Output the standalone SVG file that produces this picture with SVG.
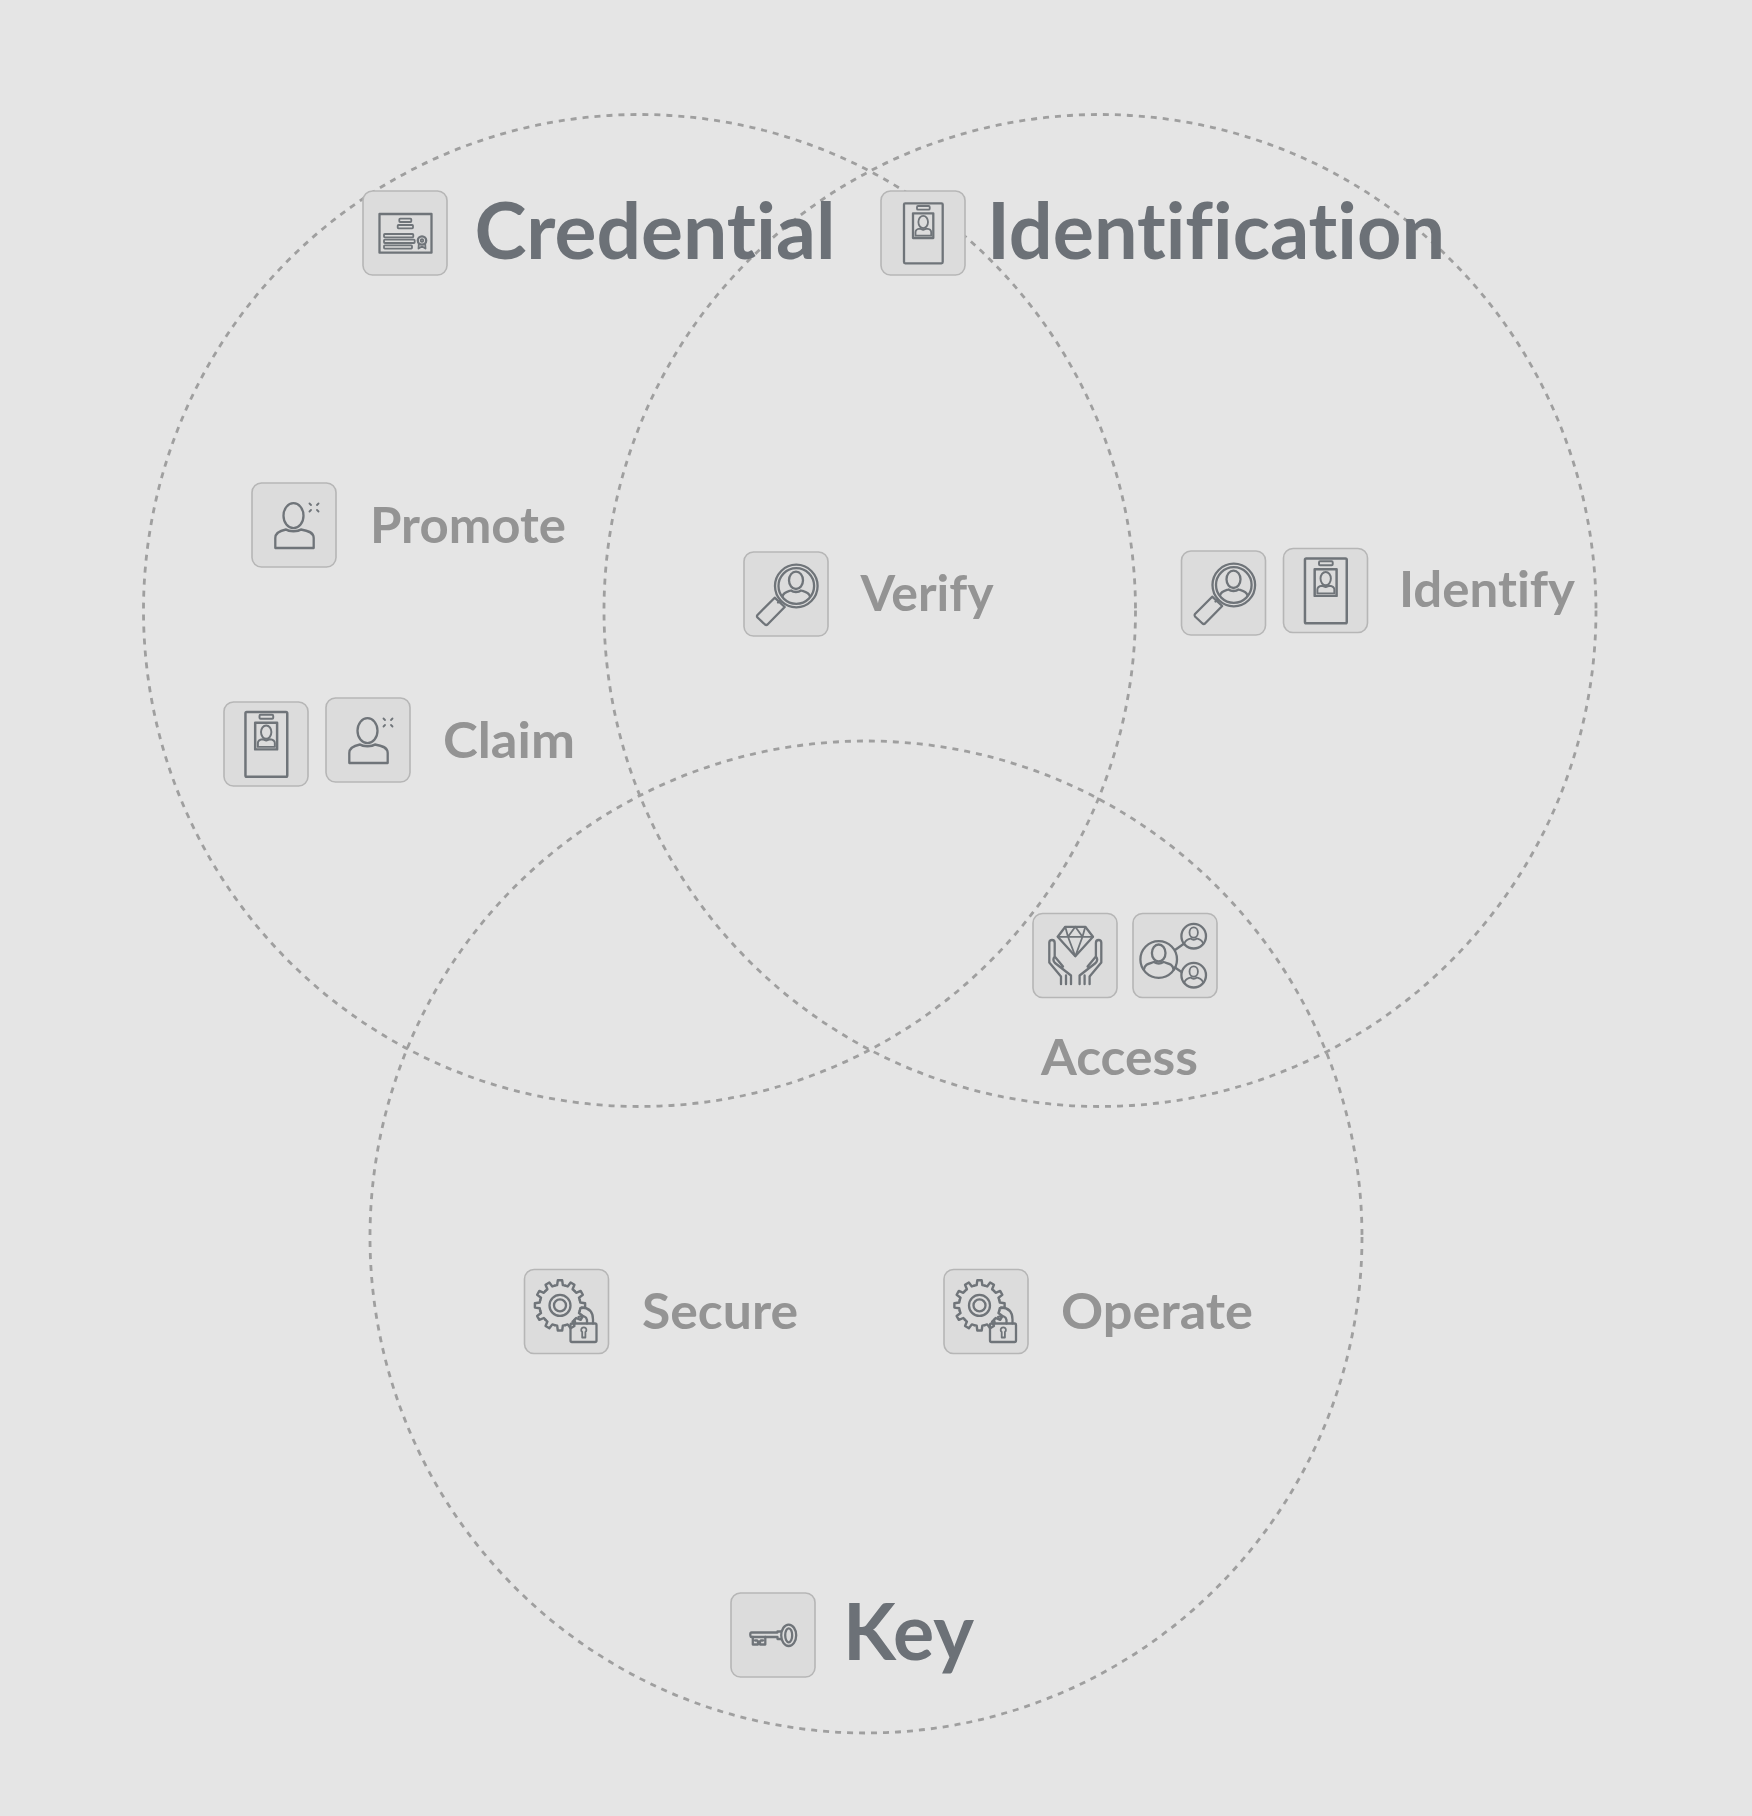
<svg xmlns="http://www.w3.org/2000/svg" width="1752" height="1816" viewBox="0 0 1752 1816">
<style>
.ring{fill:none;stroke:#9f9f9f;stroke-width:2.8;stroke-dasharray:6 6}
.box{fill:#dcdcdc;stroke:#b6b6b6;stroke-width:1.6}
.ic{fill:none;stroke:#6f7479;stroke-width:2.3;stroke-linejoin:round;stroke-linecap:round}
.ict{fill:none;stroke:#6f7479;stroke-width:1.8;stroke-linejoin:round;stroke-linecap:round}
text{font-family:Lato,"Liberation Sans",sans-serif;font-variant-ligatures:none;font-weight:700}
.title{font-size:78px;fill:#6c7177}
.label{font-size:50px;fill:#949494}
</style>
<defs>
<rect id="b" x="0" y="0" width="84" height="84" rx="9.5" class="box"/>
<g id="i-cred"><use href="#b"/><g class="ic"><rect x="16.5" y="23" width="52" height="38.7"/><rect class="ict" x="36.3" y="27.7" width="12" height="3.3" rx=".8"/><rect class="ict" x="34.7" y="34" width="15.3" height="3.3" rx=".8"/><rect class="ict" x="21" y="43" width="29.3" height="3.3" rx=".8"/><rect class="ict" x="21" y="48.7" width="30.7" height="3.3" rx=".8"/><rect class="ict" x="21" y="54.3" width="28" height="3.3" rx=".8"/><circle cx="59" cy="49.5" r="4.2"/><circle class="ict" cx="59" cy="49.5" r="1.3"/><path class="ict" d="M55.8 53L55.5 57.5L58 56L60 56L62.5 57.5L62.2 53"/></g></g>
<g id="a-id" class="ic"><rect x="23" y="12.3" width="38.7" height="60" rx="1.2"/><rect class="ict" x="36" y="15" width="12.7" height="3.7" rx="1"/><rect x="32" y="22.3" width="20.3" height="24.7"/><ellipse class="ict" cx="42.2" cy="31" rx="4.8" ry="6.2"/><path class="ict" d="M34.5 44.7V41.2C34.5 38.5 37 37.8 39 37.6L42.2 38.8L45.5 37.6C47.8 37.8 50.2 38.5 50.2 41.2V44.7Z"/></g>
<g id="i-id"><use href="#b"/><use href="#a-id"/></g>
<g id="i-id2"><use href="#b"/><use href="#a-id" transform="translate(42.25 42.25) scale(1.08) translate(-42.25 -42.25)"/></g>
<g id="i-user"><use href="#b"/><g class="ic"><ellipse cx="41.5" cy="32.7" rx="10" ry="12.5"/><path d="M23.3 65V55C23.3 49 29 47.5 34 46.5C37 48.8 46 48.8 49 46.5C55 47.5 61.7 49 61.7 55V65Z"/><path class="ict" d="M57.5 20.5L59 22M66.5 20.5L65 22M57.5 28.5L59 27M66.5 28.5L65 27"/></g></g>
<g id="i-mag"><use href="#b"/><g class="ic"><circle cx="52.3" cy="34" r="21.3"/><circle cx="52.3" cy="34" r="17.8"/><ellipse cx="52" cy="28.3" rx="7" ry="8.7"/><path d="M38.5 44.5C39.5 40 44 39.5 47 38.5C49.5 40.5 54.5 40.5 57 38.5C60 39.5 64.8 40 66 44.5"/><path d="M37.3 49.5L36 48.5L34 50.5"/><path d="M30.7 45.7L40.7 55L23.5 72.5Q22.3 73.5 21 72.5L13.5 65.5Q12.5 64.3 13.5 63Z"/></g></g>
<g id="i-hands"><use href="#b"/><g class="ic"><path d="M32.3 13.3H52.3L60 23.3L42.3 42.7L24.7 23.3Z"/><path class="ict" d="M24.7 23.3H60M32.3 13.3L35 23.3L42.3 42.7L49.5 23.3L52.3 13.3M35 23.3L42.3 13.3L49.5 23.3"/><path d="M28 70.7V63L16.3 49V29Q16.5 26.5 19 26.5Q21.7 26.5 21.7 29.5V43L30 53M21.7 43Q19 46 22 49.5L38 62V70.7M33 70.7V62"/><path d="M56.6 70.7V63L68.3 49V29Q68.1 26.5 65.6 26.5Q62.9 26.5 62.9 29.5V43L54.6 53M62.9 43Q65.6 46 62.6 49.5L46.6 62V70.7M51.6 70.7V62"/></g></g>
<g id="i-net"><use href="#b"/><g class="ic"><circle cx="25.7" cy="46" r="18.3"/><ellipse cx="25.7" cy="39.5" rx="6.8" ry="8.5"/><path d="M11 56C11.5 50 17 50 21 48.5C24 50.5 27.5 50.5 30.5 48.5C34.5 50 40 50 40.5 56"/><circle cx="60.7" cy="22.7" r="12.3"/><ellipse class="ict" cx="60.7" cy="19" rx="4.2" ry="5.2"/><path class="ict" d="M51.5 30C52 26.5 55 26 57.5 25C59.5 26.5 62 26.5 64 25C66.5 26 69.5 26.5 70 30"/><circle cx="60.7" cy="61.7" r="12.3"/><ellipse class="ict" cx="60.7" cy="58" rx="4.2" ry="5.2"/><path class="ict" d="M51.5 69C52 65.5 55 65 57.5 64C59.5 65.5 62 65.5 64 64C66.5 65 69.5 65.5 70 69"/><path d="M42 36.5L50.5 30.5M42 54L48.5 58.5"/></g></g>
<path id="t" d="M-5.05-18.84L-2.71-19.31L-2.09-23.91H2.09L2.71-19.31L5.05-18.84"/>
<g id="i-gear"><use href="#b"/><g class="ic"><g transform="translate(35.5 35.9) scale(1.05)"><use href="#t"/><use href="#t" transform="rotate(30)"/><use href="#t" transform="rotate(60)"/><use href="#t" transform="rotate(90)"/><use href="#t" transform="rotate(120)"/><use href="#t" transform="rotate(150)"/><use href="#t" transform="rotate(180)"/><use href="#t" transform="rotate(210)"/><use href="#t" transform="rotate(240)"/><use href="#t" transform="rotate(270)"/><use href="#t" transform="rotate(300)"/><use href="#t" transform="rotate(330)"/></g><circle cx="35.5" cy="35.9" r="10.5"/><circle cx="35.5" cy="35.9" r="6"/><rect x="46" y="54" width="26" height="18.5" rx="1.5"/><path d="M57 38Q68.5 38.5 68.5 50V54M54 47.5Q61.5 45 62.5 50.5V54M50.5 54V52"/><path class="ict" d="M57.7 68V62.5A2.6 2.6 0 1 1 60.9 62.5V68Z"/></g></g>
<g id="i-key"><use href="#b"/><g class="ic"><ellipse cx="57.7" cy="42.3" rx="7.5" ry="10.7"/><ellipse cx="57.7" cy="42.3" rx="3.5" ry="7"/><path d="M50.2 38.5H46.5V39.5H20.5Q19.3 39.5 19.3 41.5Q19.3 44 20.5 44H46.5V46H50.2"/><path d="M21.8 44V51.5H27V48.5H29V51.5H34.3V44M24 47.5H26M30 47.5H32"/></g></g>
</defs>
<rect id="background" width="1752" height="1816" fill="#e5e5e5"/>
<g id="connectors">
<circle class="ring" cx="639.5" cy="610.5" r="496"/>
<circle class="ring" cx="1100" cy="610.5" r="496"/>
<circle class="ring" cx="866" cy="1237" r="496"/>
</g>
<g id="credential"><use href="#i-cred" x="363" y="191"/><text class="title" x="474.5" y="259" textLength="361" lengthAdjust="spacingAndGlyphs">Credential</text></g>
<g id="identification"><use href="#i-id" x="881" y="191"/><text class="title" x="987" y="259" textLength="458" lengthAdjust="spacingAndGlyphs">Identification</text></g>
<g id="key"><use href="#i-key" x="731" y="1593"/><text class="title" x="843" y="1660" textLength="131" lengthAdjust="spacingAndGlyphs">Key</text></g>
<g id="promote"><use href="#i-user" x="252" y="483"/><text class="label" x="370" y="543" textLength="196" lengthAdjust="spacingAndGlyphs">Promote</text></g>
<g id="claim"><use href="#i-id2" x="224" y="702"/><use href="#i-user" x="326" y="698"/><text class="label" x="443" y="757.5" textLength="132" lengthAdjust="spacingAndGlyphs">Claim</text></g>
<g id="verify"><use href="#i-mag" x="744" y="552"/><text class="label" x="860.5" y="611" textLength="133" lengthAdjust="spacingAndGlyphs">Verify</text></g>
<g id="identify"><use href="#i-mag" x="1181.5" y="551"/><use href="#i-id2" x="1283.5" y="548.5"/><text class="label" x="1399" y="607" textLength="176" lengthAdjust="spacingAndGlyphs">Identify</text></g>
<g id="access"><use href="#i-hands" x="1033" y="913.5"/><use href="#i-net" x="1133" y="913.5"/><text class="label" x="1041" y="1075" textLength="157" lengthAdjust="spacingAndGlyphs">Access</text></g>
<g id="secure"><use href="#i-gear" x="524.5" y="1269.5"/><text class="label" x="642" y="1329" textLength="156" lengthAdjust="spacingAndGlyphs">Secure</text></g>
<g id="operate"><use href="#i-gear" x="944" y="1269.5"/><text class="label" x="1061" y="1329" textLength="192" lengthAdjust="spacingAndGlyphs">Operate</text></g>
</svg>
